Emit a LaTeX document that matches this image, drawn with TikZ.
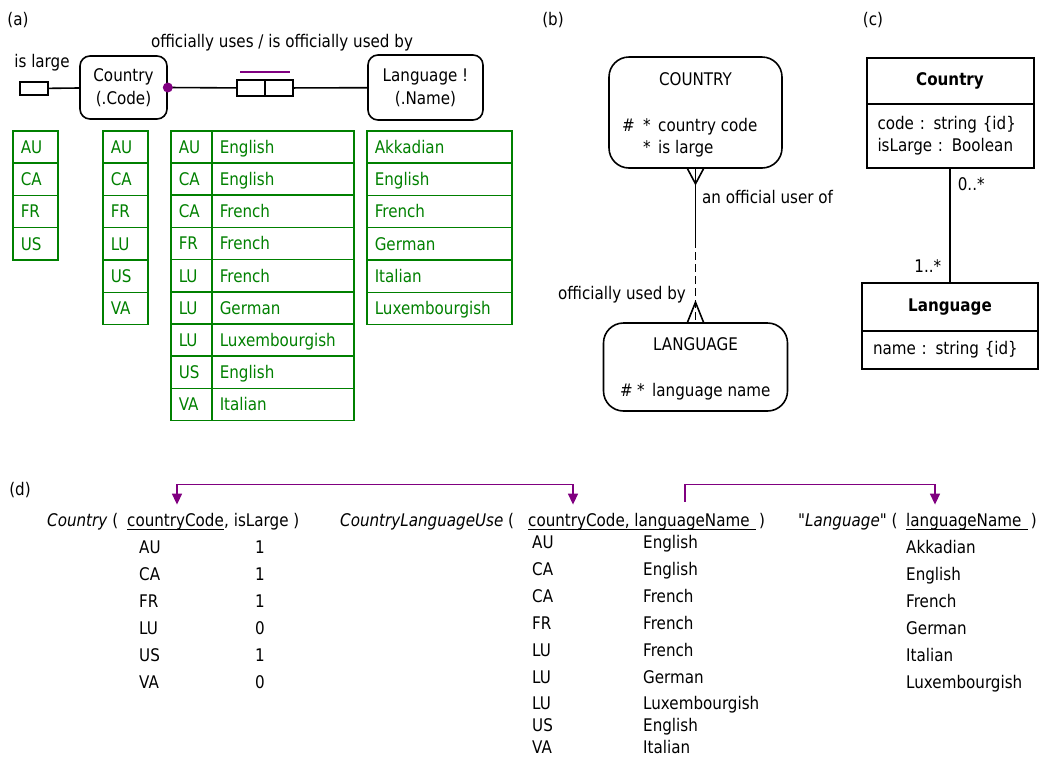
\documentclass[tikz,border=0pt]{standalone}
\usepackage{fontspec}
\setmainfont{DejaVu Sans}[FakeStretch=0.87, Ligatures=TeXOff]
\usetikzlibrary{positioning,arrows.meta,calc}
\definecolor{popgreen}{RGB}{0,128,0}
\definecolor{fkpurple}{RGB}{128,0,128}
\tikzset{fktip/.tip={Triangle[width=10pt,length=11pt]}}

\begin{document}
\begin{tikzpicture}[
            x=1pt, y=-1pt,
            every node/.style={font=\fontsize{17.4}{22}\selectfont, inner sep=0pt},
            ormtype/.style={draw, line width=1.6pt, rounded corners=10pt, align=center},
            rolebox/.style={draw, line width=1.6pt, outer sep=0pt, minimum width=28pt, minimum height=16pt},
            cell/.style={
                draw=popgreen,
                text=popgreen,
                line width=1.5pt,
                anchor=north west,
                minimum height=32.3pt,
                inner xsep=8pt,
                text height=12.6pt,
                text depth=0pt,
                align=left
            },
            entity/.style={draw, line width=1.6pt, rounded corners=20pt},
            classhead/.style={draw, line width=2pt, outer sep=0pt, font=\fontsize{17.4}{22}\selectfont\bfseries},
            classbody/.style={draw, line width=2pt, outer sep=0pt, align=left, inner xsep=11pt},
            row/.style={anchor=base west},
            fk/.style={draw=fkpurple, fill=none, line width=1.6pt},
            keyline/.style={line width=1pt}
        ]
        \useasboundingbox (0,0) rectangle (1039,756);

        % (a) ORM schema with populations
        \node (lbl-a) at (18,20) {(a)};
        \node[ormtype, minimum width=87pt, minimum height=63pt] (country) at (123.5,87.5) {Country\\[1pt](.Code)};
        \node[ormtype, minimum width=115pt, minimum height=65pt] (language) at (425.5,87.5) {Language !\\[1pt](.Name)};
        \node[draw, line width=1.6pt, minimum width=28pt, minimum height=13pt] (islarge) at (34,88.5) {};
        \node (islarge-lbl) at (42,63) {is large};
        \node[rolebox] (role1) at (251,88) {};
        \node[rolebox, right=0pt of role1] (role2) {};
        \node (fact-lbl) at (282,43) {officially uses / is officially used by};

        \draw[line width=1.6pt] (islarge) -- (country);
        \draw[line width=1.6pt] (country.east) -- (role1);
        \draw[line width=1.6pt] (role2) -- (language);
        \draw[fkpurple, line width=1.8pt] ([xshift=3pt,yshift=8pt]role1.north west) -- ([xshift=-3pt,yshift=8pt]role2.north east);
        \fill[fkpurple] (country.east) circle (5pt);

        \foreach \c [count=\i from 0] in {AU,CA,FR,US}
            \node[cell, text width=29pt] (pop-large-\i) at (12,130+32.3*\i) {\c};
        \foreach \c [count=\i from 0] in {AU,CA,FR,LU,US,VA}
            \node[cell, text width=29pt] (pop-country-\i) at (102,130+32.3*\i) {\c};
        \foreach \c/\l [count=\i from 0] in {AU/English,CA/English,CA/French,FR/French,LU/French,LU/German,LU/Luxembourgish,US/English,VA/Italian} {
            \node[cell, text width=25pt] (pop-use-c\i) at (170,130+32.2*\i) {\c};
            \node[cell, text width=126pt] (pop-use-l\i) at (211,130+32.2*\i) {\l};
        }
        \foreach \l [count=\i from 0] in {Akkadian,English,French,German,Italian,Luxembourgish}
            \node[cell, text width=129pt] (pop-lang-\i) at (366,130+32.3*\i) {\l};

        % (b) ER diagram
        \node (lbl-b) at (553,20) {(b)};
        \node[entity, minimum width=173pt, minimum height=111pt] (bcountry) at (695.5,112.5) {};
        \node[below=16.5pt of bcountry.north] (bcountry-name) {COUNTRY};
        \node[row] (bc-hash) at (622,131) {\#};
        \node[row] (bc-star1) at (643,131) {*};
        \node[row] (bc-code) at (658,131) {country code};
        \node[row] (bc-star2) at (643,153) {*};
        \node[row] (bc-large) at (658,153) {is large};

        \node[entity, minimum width=184pt, minimum height=88pt] (blanguage) at (695.5,367) {};
        \node[below=15.5pt of blanguage.north] (blanguage-name) {LANGUAGE};
        \node[row] (bl-hash) at (620,396) {\#};
        \node[row] (bl-star) at (637,396) {*};
        \node[row] (bl-name) at (652,396) {language name};

        \coordinate (rel-mid) at (695.5,240);
        \draw[line width=1.6pt] (bcountry.south) -- (rel-mid);
        \draw[line width=1.6pt, dash pattern=on 8pt off 4pt] (rel-mid) -- (blanguage.north);
        \draw[line width=1.6pt] ([xshift=-8pt]bcountry.south) -- ([yshift=-15pt]bcountry.south) -- ([xshift=8pt]bcountry.south);
        \draw[line width=1.6pt] ([xshift=-8pt]blanguage.north) -- ([yshift=20pt]blanguage.north) -- ([xshift=8pt]blanguage.north);
        \node[anchor=west] (rel-lbl1) at (702,197) {an official user of};
        \node[anchor=east] (rel-lbl2) at (686,295) {officially used by};

        % (c) UML class diagram
        \node (lbl-c) at (873,20) {(c)};
        \node[classhead, minimum width=167pt, minimum height=46pt] (ccountry) at (950,81) {Country};
        \node[classbody, text width=145pt, minimum height=64pt, below=0pt of ccountry] (ccountry-attr) {code : string \{id\}\\isLarge : Boolean};
        \node[classhead, minimum width=176pt, minimum height=48pt] (clanguage) at (950,307) {Language};
        \node[classbody, text width=154pt, minimum height=38pt, below=0pt of clanguage] (clanguage-attr) {name : string \{id\}};
        \draw[line width=1.6pt] (ccountry-attr.south) -- (clanguage.north)
            node[pos=0.14, right=7pt] (mult-country) {0..*}
            node[pos=0.85, left=8pt] (mult-language) {1..*};

        % (d) relational schema
        \node (lbl-d) at (20,490) {(d)};
        \node[row] (rel-country) at (47,526) {\textit{Country} (};
        \node[row] (rel-country-key) at (127,526) {countryCode};
        \node[base right=0pt of rel-country-key] (rel-country-rest) {, isLarge )};
        \node[row] (rel-use) at (340,526) {\textit{CountryLanguageUse} (};
        \node[row] (rel-use-key) at (528,526) {countryCode, languageName};
        \node[base right=9pt of rel-use-key] (rel-use-rest) {)};
        \node[row] (rel-lang) at (798,526) {"\textit{Language}" (};
        \node[row] (rel-lang-key) at (906,526) {languageName};
        \node[base right=9pt of rel-lang-key] (rel-lang-rest) {)};

        \draw[keyline] ([yshift=-3pt]rel-country-key.base west) -- ([yshift=-3pt]rel-country-key.base east);
        \draw[keyline] ([yshift=-3pt]rel-use-key.base west) -- ([yshift=-3pt,xshift=6pt]rel-use-key.base east);
        \draw[keyline] ([yshift=-3pt]rel-lang-key.base west) -- ([yshift=-3pt,xshift=6pt]rel-lang-key.base east);

        \foreach \c/\v [count=\i from 0] in {AU/1,CA/1,FR/1,LU/0,US/1,VA/0} {
            \node[row] (tab-country-c\i) at (139,553+27*\i) {\c};
            \node[row] (tab-country-v\i) at (255,553+27*\i) {\v};
        }
        \foreach \c/\l/\y [count=\i] in {AU/English/548,CA/English/575,CA/French/602,FR/French/629,LU/French/656,LU/German/683,LU/Luxembourgish/709,US/English/731,VA/Italian/753} {
            \node[row] (tab-use-c\i) at (532,\y) {\c};
            \node[row] (tab-use-l\i) at (643,\y) {\l};
        }
        \foreach \l [count=\i from 0] in {Akkadian,English,French,German,Italian,Luxembourgish}
            \node[row] (tab-lang-\i) at (906,553+27*\i) {\l};

        \draw[fk, fktip-fktip] ([xshift=50pt,yshift=8pt]rel-country-key.north west) -- ++(0,-20) -| ([xshift=45pt,yshift=8pt]rel-use-key.north west);
        \draw[fk, -fktip] ([xshift=157pt,yshift=11pt]rel-use-key.north west) -- ++(0,-17) -| ([xshift=29pt,yshift=8pt]rel-lang-key.north west);
    \end{tikzpicture}
\end{document}
